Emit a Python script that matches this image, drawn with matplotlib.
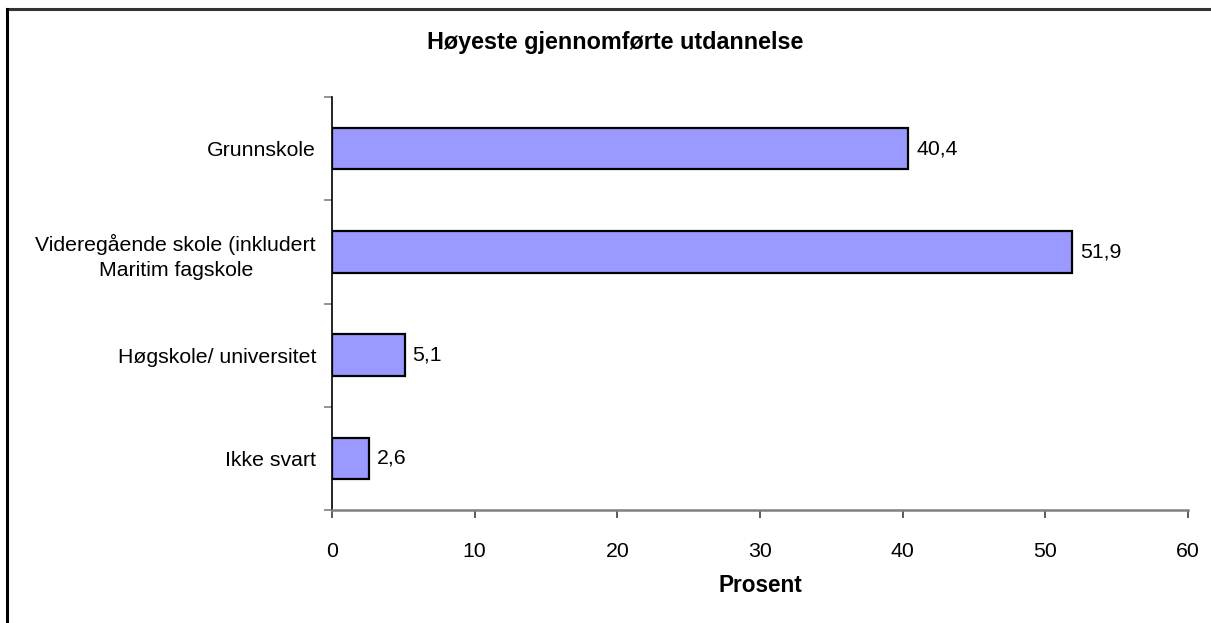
import matplotlib.pyplot as plt
from matplotlib.lines import Line2D

categories = [
    "Grunnskole",
    "Videregående skole (inkludert\nMaritim fagskole",
    "Høgskole/ universitet",
    "Ikke svart",
]
values = [40.4, 51.9, 5.1, 2.6]
x_ticks = [0, 10, 20, 30, 40, 50, 60]

plt.rcParams["font.family"] = ["Liberation Sans", "DejaVu Sans"]

fig = plt.figure(figsize=(12.11, 6.23), dpi=100)
ax = fig.add_axes([332 / 1211, 1 - 510 / 623, (1188 - 332) / 1211, (510 - 97) / 623])

ypos = list(range(len(categories)))
bars = ax.barh(ypos, values, height=0.4, color="#9999FF", edgecolor="black", linewidth=1.6)

for bar, v in zip(bars, values):
    ax.text(bar.get_width() + 0.55, bar.get_y() + bar.get_height() / 2,
            f"{v:.1f}".replace(".", ","), va="center", ha="left", fontsize=15.3)

ax.set_xlim(0, 60)
ax.set_ylim(len(categories) - 0.5, -0.5)
ax.set_xticks(x_ticks)
ax.set_xticklabels([str(t) for t in x_ticks], fontsize=15.3)

ax.set_yticks(ypos)
ax.set_yticklabels(categories, fontsize=15.3, multialignment="center", linespacing=1.4)
ax.tick_params(axis="y", length=0, pad=11.5)
ax.set_yticks([i - 0.5 for i in range(len(categories) + 1)], minor=True)
ax.tick_params(axis="y", which="minor", length=6, color="#808080", width=1.2)
ax.tick_params(axis="x", length=6, color="#404040", width=1.2, pad=17)

for side in ["top", "right"]:
    ax.spines[side].set_visible(False)
ax.spines["left"].set_color("black")
ax.spines["left"].set_linewidth(1.2)
ax.spines["bottom"].set_color("#808080")
ax.spines["bottom"].set_linewidth(1.8)

fig.text(615.5 / 1211, 1 - 42 / 623, "Høyeste gjennomførte utdannelse", ha="center", va="center",
         fontsize=16.8, fontweight="bold")
fig.text(760 / 1211, 1 - 586 / 623, "Prosent", ha="center", va="center",
         fontsize=16.3, fontweight="bold")

# outer chart border (only top and left edges visible in the crop)
fig.add_artist(Line2D([6.5 / 1211, 1.0], [1 - 8.5 / 623] * 2, transform=fig.transFigure,
                      color="#333333", linewidth=2.2))
fig.add_artist(Line2D([6.5 / 1211] * 2, [0.0, 1 - 8.5 / 623], transform=fig.transFigure,
                      color="black", linewidth=2.2))

fig.savefig("out.png", dpi=100, facecolor="white")
